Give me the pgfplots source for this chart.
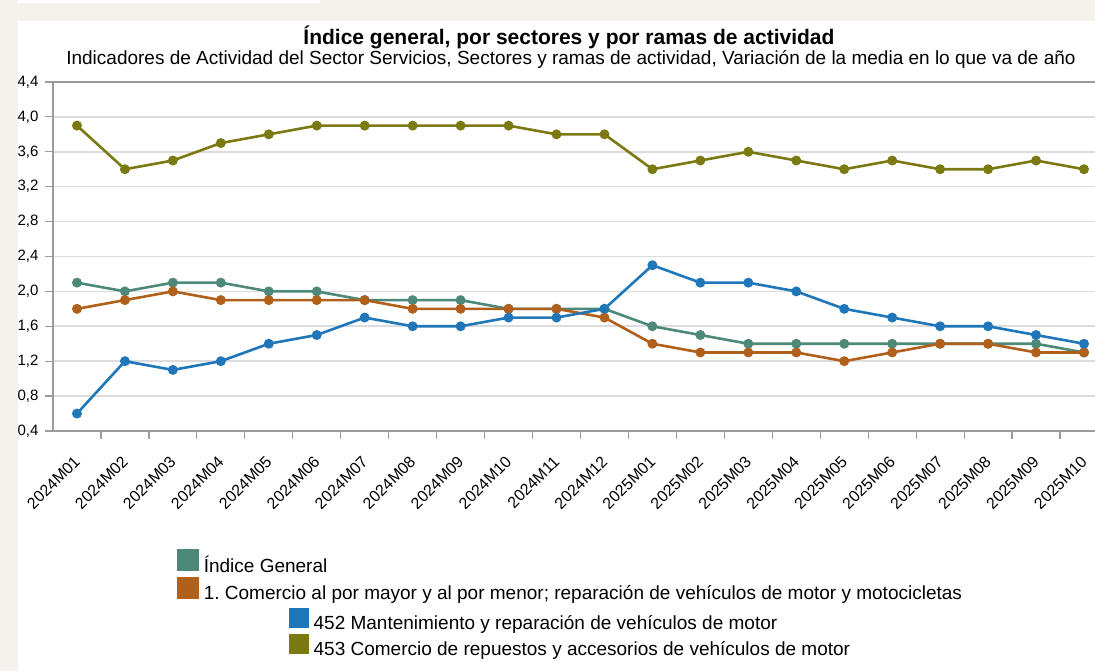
\documentclass[border=0pt]{standalone}
\usepackage{fontspec}
\setmainfont{Liberation Sans}
\usepackage{pgfplots}
\usepackage{pgfplotstable}
\pgfplotsset{compat=1.18}
\frenchspacing
\definecolor{bgbeige}{RGB}{245,242,238}
\definecolor{cteal}{RGB}{77,137,121}
\definecolor{corange}{RGB}{176,96,26}
\definecolor{cblue}{RGB}{31,119,185}
\definecolor{colive}{RGB}{123,122,18}
\definecolor{gridc}{RGB}{220,220,220}
\definecolor{axisc}{RGB}{155,155,155}

\pgfplotstableread{
x ig com r452 r453
0 2.1 1.8 0.6 3.9
1 2.0 1.9 1.2 3.4
2 2.1 2.0 1.1 3.5
3 2.1 1.9 1.2 3.7
4 2.0 1.9 1.4 3.8
5 2.0 1.9 1.5 3.9
6 1.9 1.9 1.7 3.9
7 1.9 1.8 1.6 3.9
8 1.9 1.8 1.6 3.9
9 1.8 1.8 1.7 3.9
10 1.8 1.8 1.7 3.8
11 1.8 1.7 1.8 3.8
12 1.6 1.4 2.3 3.4
13 1.5 1.3 2.1 3.5
14 1.4 1.3 2.1 3.6
15 1.4 1.3 2.0 3.5
16 1.4 1.2 1.8 3.4
17 1.4 1.3 1.7 3.5
18 1.4 1.4 1.6 3.4
19 1.4 1.4 1.6 3.4
20 1.4 1.3 1.5 3.5
21 1.3 1.3 1.4 3.4
}\datatable

\pgfplotsset{
  common/.style={
    at={(53bp,240bp)}, anchor=south west, scale only axis,
    width=1042bp, height=349bp,
    xmin=-0.5, xmax=21.23, ymin=0.4, ymax=4.4,
  },
  legstyle/.style={legend style={at={#1}, anchor=north west, draw=none, fill=none,
     font=\fontsize{19bp}{22bp}\selectfont, row sep=1bp, column sep=3bp, inner sep=0pt,
     nodes={inner sep=2bp}},
     legend cell align=left},
}

\begin{document}
\begin{tikzpicture}[x=1bp,y=1bp]
\fill[bgbeige] (0,0) rectangle (1095,671);
\fill[white] (18,0) rectangle (1095,650);
\fill[white] (18,668) rectangle (320,671);
\useasboundingbox (0,0) rectangle (1095,671);
\node[font=\fontsize{21bp}{24bp}\selectfont\bfseries] at (569,634) {Índice general, por sectores y por ramas de actividad};
\node[font=\fontsize{19bp}{22bp}\selectfont] at (571,612) {Indicadores de Actividad del Sector Servicios, Sectores y ramas de actividad, Variación de la media en lo que va de año};

\begin{axis}[common,
  axis x line*=bottom, axis y line*=left,
  axis line style={axisc, line width=2bp},
  ytick={0.4,0.8,1.2,1.6,2.0,2.4,2.8,3.2,3.6,4.0},
  extra y ticks={4.4},
  extra y tick style={grid style={axisc, line width=1.8bp}},
  ymajorgrids, grid style={gridc, line width=1.6bp},
  tick align=outside, major tick length=8bp,
  tick style={axisc, line width=1.2bp},
  yticklabel style={xshift=-3bp, font=\fontsize{15bp}{18bp}\selectfont, /pgf/number format/.cd, fixed, fixed zerofill, precision=1, use comma, assume math mode=true},
  xtick={0.5,1.5,...,20.5}, xticklabels={},
  extra x ticks={0,1,...,21},
  extra x tick labels={2024M01,2024M02,2024M03,2024M04,2024M05,2024M06,2024M07,2024M08,2024M09,2024M10,2024M11,2024M12,2025M01,2025M02,2025M03,2025M04,2025M05,2025M06,2025M07,2025M08,2025M09,2025M10},
  extra x tick style={major tick length=0pt, tick style={draw=none}},
  xticklabel style={xshift=-4bp, yshift=-19bp, rotate=45, anchor=north east, font=\fontsize{16bp}{19bp}\selectfont},
  legstyle={(0.119,-0.338)},
  every axis plot/.append style={line width=2.6bp, mark=*, mark size=3.6bp},
]
\addplot[cteal, legend image code/.code={\fill[cteal] (0bp,-4bp) rectangle (19bp,15bp);}] table[x=x,y=ig]{\datatable};
\addlegendentry{Índice General}
\addplot[corange, legend image code/.code={\fill[corange] (0bp,-4bp) rectangle (19bp,15bp);}] table[x=x,y=com]{\datatable};
\addlegendentry{1. Comercio al por mayor y al por menor; reparación de vehículos de motor y motocicletas}
\addplot[cblue, forget plot] table[x=x,y=r452]{\datatable};
\addplot[colive, forget plot] table[x=x,y=r453]{\datatable};
\end{axis}

\begin{axis}[common, hide axis,
  legstyle={(0.2265,-0.507)},
]
\addlegendimage{legend image code/.code={\fill[cblue] (0bp,-4bp) rectangle (19bp,15bp);}}
\addlegendentry{452 Mantenimiento y reparación de vehículos de motor}
\addlegendimage{legend image code/.code={\fill[colive] (0bp,-4bp) rectangle (19bp,15bp);}}
\addlegendentry{453 Comercio de repuestos y accesorios de vehículos de motor}
\end{axis}
\end{tikzpicture}
\end{document}
